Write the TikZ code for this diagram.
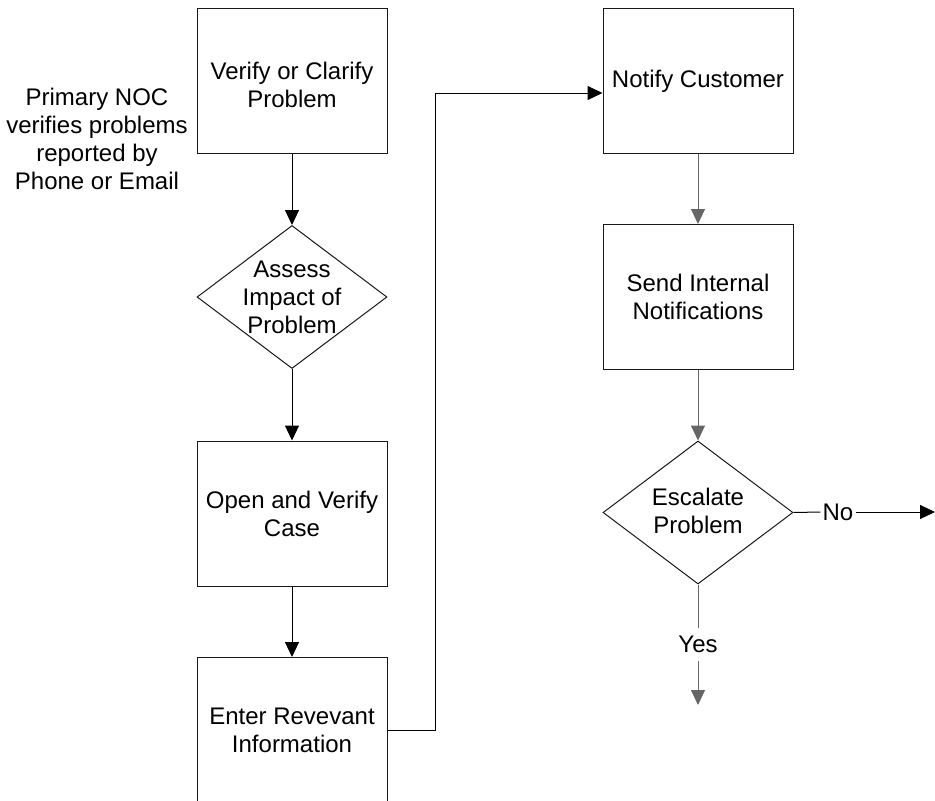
\documentclass[tikz,border=0pt]{standalone}
\usepackage{fontspec}
\setmainfont{Liberation Sans}
\usetikzlibrary{arrows.meta,shapes.geometric,positioning}
\begin{document}
\begin{tikzpicture}[x=1pt,y=-1pt,
  every node/.style={font=\fontsize{24}{28}\selectfont, align=center},
  procbox/.style={draw=black!90, line width=1pt, rectangle, minimum width=190pt, minimum height=145pt, inner sep=0pt},
  decbox/.style={draw=black!90, line width=1pt, diamond, minimum width=190pt, minimum height=143pt, inner sep=0pt},
  lbl/.style={inner sep=0pt},
  conn/.style={line width=1pt, draw=black},
  gconn/.style={line width=1pt, draw=black!60},
  arr/.style={-{Triangle[length=15pt,width=14pt]}}
]
\useasboundingbox (0,0) rectangle (935,801);

% left column
\node[procbox] (b1) at (292,81) {};
\node[lbl] (b1t) at (292,85) {Verify or Clarify\\Problem};
\node[lbl] (side) at (97,139) {Primary NOC\\verifies problems\\reported by\\Phone or Email};
\node[decbox] (d1) at (292,297) {};
\node[lbl] (d1t) at (292,297) {Assess\\Impact of\\Problem};
\node[procbox] (b2) at (292,513.5) {Open and Verify\\Case};
\node[procbox] (b3) at (292,730) {Enter Revevant\\Information};

% right column
\node[procbox] (b4) at (698,81) {Notify Customer};
\node[procbox] (b5) at (698,297) {Send Internal\\Notifications};
\node[decbox] (d2) at (698,512.5) {};
\node[lbl] (d2t) at (698,511) {Escalate\\Problem};

\node[inner xsep=2pt, inner ysep=2pt] (no) at (838,512) {No};
\coordinate (noend) at (935,512);
\node[inner xsep=2pt, inner ysep=8pt] (yes) at (698,644.5) {Yes};
\coordinate (yesend) at (698,705);

% connectors
\draw[conn,arr] (b1.south) -- (d1.north);
\draw[conn,arr] (d1.south) -- (b2.north);
\draw[conn,arr] (b2.south) -- (b3.north);
\draw[conn,arr] (b3.east) -- ++(48,0) |- ([yshift=-12pt]b4.west);
\draw[gconn,arr] (b4.south) -- (b5.north);
\draw[gconn,arr] (b5.south) -- (d2.north);
\draw[conn] (d2.east) -- (no.west);
\draw[conn,arr] (no.east) -- (noend);
\draw[gconn] (d2.south) -- (yes.north);
\draw[gconn,arr] (yes.south) -- (yesend);
\end{tikzpicture}
\end{document}
